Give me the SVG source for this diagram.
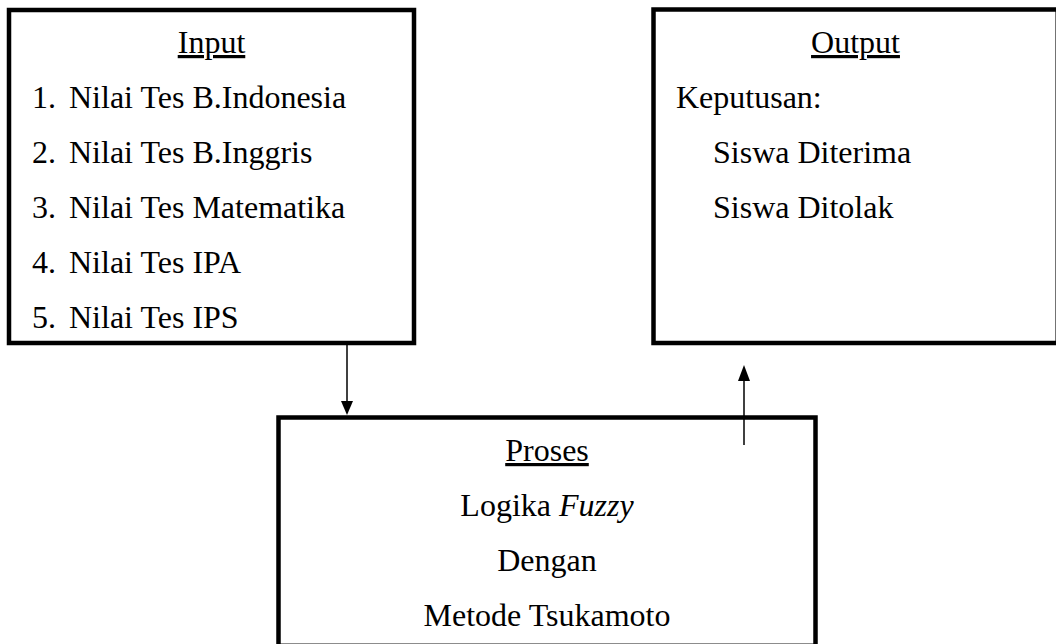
<svg xmlns="http://www.w3.org/2000/svg" width="1056" height="644" viewBox="0 0 1056 644">
<defs>
<style>
.box{fill:#fff;stroke:#000;stroke-width:4.5}
text{font-family:"Liberation Serif","Times New Roman","DejaVu Serif",serif;font-size:32px;fill:#000}
.u{text-decoration:underline}
.c{text-anchor:middle}
.conn{stroke:#000;stroke-width:1.5;fill:none}
.head{fill:#000}
</style>
</defs>
<rect width="1056" height="644" fill="#fff"/>
<g id="input">
<rect class="box" x="9" y="10" width="405" height="333"/>
<text class="c u" x="211.5" y="53">Input</text>
<text x="32" y="108">1.</text><text x="69" y="108">Nilai Tes B.Indonesia</text>
<text x="32" y="163">2.</text><text x="69" y="163">Nilai Tes B.Inggris</text>
<text x="32" y="218">3.</text><text x="69" y="218">Nilai Tes Matematika</text>
<text x="32" y="273">4.</text><text x="69" y="273">Nilai Tes IPA</text>
<text x="32" y="328">5.</text><text x="69" y="328">Nilai Tes IPS</text>
</g>
<g id="output">
<rect class="box" x="653.5" y="9.5" width="404.2" height="333.5"/>
<text class="c u" x="855.5" y="53">Output</text>
<text x="676" y="108">Keputusan:</text>
<text x="713" y="163">Siswa Diterima</text>
<text x="713" y="218">Siswa Ditolak</text>
</g>
<g id="proses">
<rect class="box" x="278.5" y="417.5" width="537" height="228.3"/>
<text class="c u" x="547" y="461">Proses</text>
<text class="c" x="547" y="516">Logika <tspan font-style="italic">Fuzzy</tspan></text>
<text class="c" x="547" y="571">Dengan</text>
<text class="c" x="547" y="626">Metode Tsukamoto</text>
</g>
<g id="connectors">
<line class="conn" x1="347" y1="341" x2="347" y2="402"/>
<path class="head" d="M341,401 L353,401 L347,415 Z"/>
<line class="conn" x1="744" y1="445" x2="744" y2="380"/>
<path class="head" d="M738,381 L750,381 L744,365 Z"/>
</g>
</svg>
